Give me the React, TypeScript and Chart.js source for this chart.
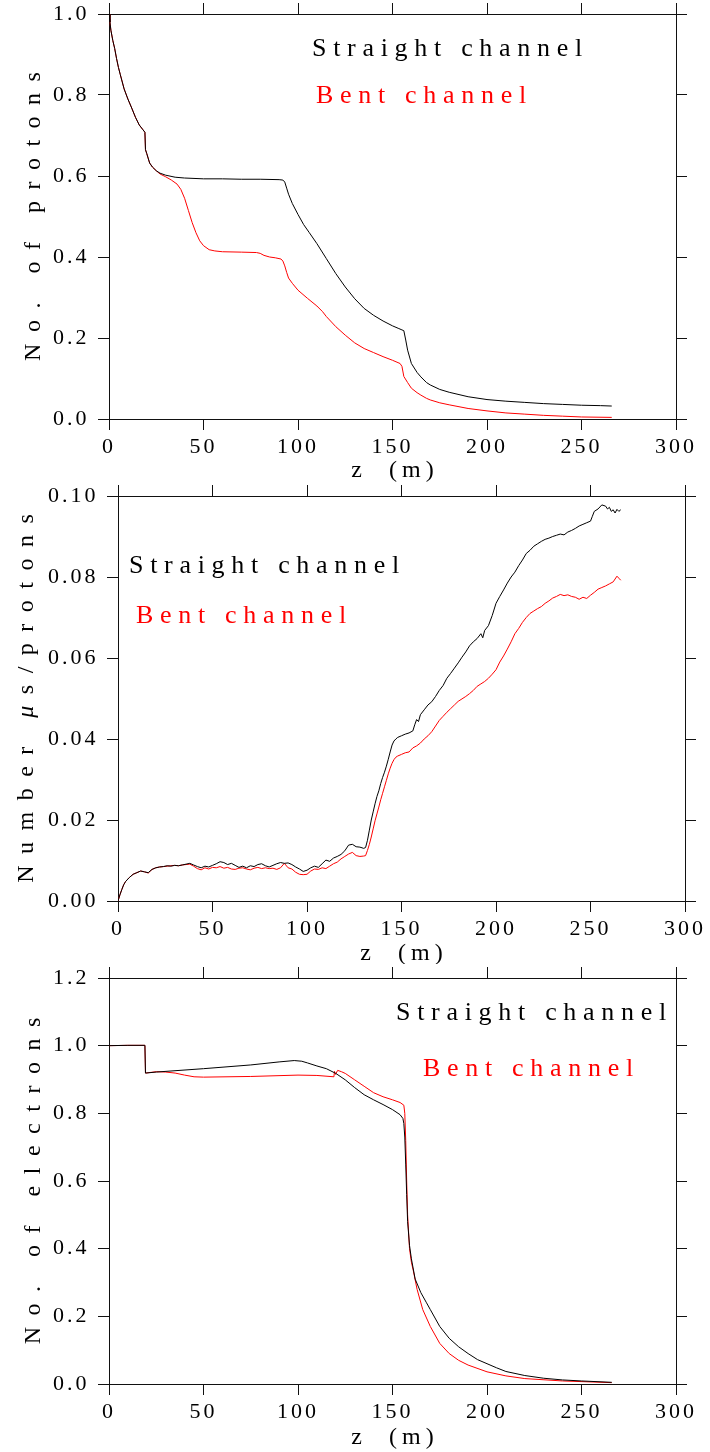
import React, { useEffect, useRef } from 'react';
import { Chart, registerables } from 'chart.js';

Chart.register(...registerables);

const SERIF = '"Liberation Serif", "DejaVu Serif", "Times New Roman", serif';
const W = 710;

// ---------- Panel 1: No. of protons ----------
const zProtonStraight = [0, 0.5, 1, 2, 3, 4, 5, 6, 8, 10, 12, 14, 16, 18, 19, 19.3, 20, 21.5, 23, 25, 27, 30, 35, 40, 50, 60, 70, 80, 90, 92, 93, 94, 95, 97, 100, 103, 106, 110, 115, 120, 125, 130, 135, 140, 145, 150, 153, 155, 156, 157, 158, 160, 163, 165, 168, 170, 175, 180, 190, 200, 210, 220, 230, 240, 250, 260, 266];
const protonStraight = [1.0, 0.98, 0.96, 0.935, 0.915, 0.89, 0.868, 0.85, 0.815, 0.79, 0.768, 0.745, 0.726, 0.714, 0.708, 0.665, 0.655, 0.632, 0.622, 0.613, 0.607, 0.602, 0.597, 0.595, 0.593, 0.593, 0.592, 0.592, 0.591, 0.59, 0.585, 0.57, 0.555, 0.532, 0.505, 0.48, 0.46, 0.433, 0.396, 0.359, 0.326, 0.297, 0.273, 0.256, 0.242, 0.23, 0.224, 0.22, 0.218, 0.195, 0.17, 0.137, 0.115, 0.104, 0.09, 0.084, 0.073, 0.066, 0.055, 0.048, 0.044, 0.041, 0.038, 0.036, 0.034, 0.033, 0.032];
const zProtonBent = [0, 0.5, 1, 2, 3, 4, 5, 6, 8, 10, 12, 14, 16, 18, 19, 19.3, 20, 21.5, 23, 25, 27, 30, 33, 36, 38, 40, 42, 44, 46, 48, 50, 53, 56, 60, 70, 78, 80, 82, 85, 88, 91, 92, 93, 94, 95, 97, 100, 105, 110, 113, 115, 120, 125, 130, 135, 140, 145, 150, 154, 155, 156, 158, 160, 163, 165, 168, 170, 175, 180, 190, 200, 210, 220, 230, 240, 250, 266];
const protonBent = [1.0, 0.98, 0.96, 0.935, 0.915, 0.89, 0.868, 0.85, 0.815, 0.79, 0.768, 0.745, 0.726, 0.714, 0.708, 0.665, 0.655, 0.632, 0.622, 0.613, 0.605, 0.598, 0.59, 0.58, 0.567, 0.545, 0.515, 0.485, 0.46, 0.44, 0.428, 0.418, 0.415, 0.413, 0.412, 0.411, 0.409, 0.404, 0.4, 0.398, 0.395, 0.39, 0.378, 0.362, 0.348, 0.335, 0.318, 0.298, 0.279, 0.265, 0.253, 0.228, 0.207, 0.188, 0.174, 0.164, 0.154, 0.145, 0.137, 0.13, 0.105, 0.09, 0.076, 0.065, 0.059, 0.051, 0.047, 0.04, 0.035, 0.026, 0.02, 0.015, 0.012, 0.009, 0.007, 0.005, 0.004];

// ---------- Panel 2: Number of muons per proton ----------
const zMuStraight = [0, 1, 2, 3, 4, 6, 8, 10, 12, 14, 16, 18, 20, 22, 24, 26, 28, 30, 32, 34, 36, 38, 40, 42, 44, 46, 48, 50, 52, 54, 56, 58, 60, 62, 64, 66, 68, 70, 72, 74, 76, 78, 80, 82, 84, 86, 88, 90, 92, 94, 96, 98, 100, 102, 104, 106, 108, 110, 112, 114, 116, 118, 120, 122, 124, 126, 128, 130, 131, 132, 133, 134, 135, 136, 137, 138, 139, 140, 141, 142, 143, 144, 145, 146, 147, 148, 150, 152, 154, 156, 157, 158, 159, 160, 162, 164, 166, 168, 170, 172, 174, 176, 178, 180, 182, 184, 186, 188, 190, 192, 193, 194, 196, 198, 200, 202, 204, 206, 208, 210, 212, 214, 216, 218, 220, 222, 224, 226, 228, 230, 232, 234, 236, 238, 240, 242, 244, 246, 248, 250, 251, 252, 254, 256, 258, 259, 260, 261, 262, 263, 264, 265, 266];
const muStraight = [0, 0.0015, 0.0028, 0.004, 0.0048, 0.0058, 0.0066, 0.007, 0.0074, 0.0072, 0.007, 0.0078, 0.0082, 0.0084, 0.0085, 0.0087, 0.0086, 0.0088, 0.0087, 0.0089, 0.0091, 0.0093, 0.0089, 0.0085, 0.0082, 0.0086, 0.0084, 0.0088, 0.0092, 0.0097, 0.0095, 0.009, 0.0093, 0.0088, 0.0083, 0.0086, 0.0082, 0.0087, 0.0085, 0.009, 0.0092, 0.0087, 0.0084, 0.0088, 0.0092, 0.0095, 0.0093, 0.0094, 0.009, 0.0084, 0.0079, 0.0073, 0.0076, 0.0082, 0.0086, 0.0083, 0.0092, 0.0101, 0.0098, 0.0106, 0.011, 0.0115, 0.0124, 0.0138, 0.014, 0.0134, 0.0133, 0.013, 0.0132, 0.015, 0.0175, 0.02, 0.022, 0.024, 0.0258, 0.0272, 0.029, 0.0305, 0.0318, 0.0333, 0.035, 0.0368, 0.0385, 0.0395, 0.04, 0.0404, 0.0408, 0.0412, 0.0415, 0.042, 0.0435, 0.0448, 0.0443, 0.046, 0.0472, 0.0484, 0.0492, 0.0505, 0.052, 0.0532, 0.055, 0.0562, 0.0575, 0.0588, 0.0602, 0.0615, 0.063, 0.064, 0.0648, 0.066, 0.065, 0.0668, 0.068, 0.0705, 0.0735, 0.0752, 0.0768, 0.0785, 0.08, 0.0812, 0.0828, 0.0842, 0.0858, 0.0866, 0.0876, 0.0882, 0.0888, 0.0893, 0.0896, 0.09, 0.0903, 0.0906, 0.0904, 0.0911, 0.0915, 0.092, 0.0926, 0.093, 0.0934, 0.0938, 0.095, 0.0962, 0.0968, 0.0978, 0.0975, 0.0968, 0.0972, 0.0962, 0.0966, 0.0958, 0.0967, 0.0962, 0.0966];
const zMuBent = [0, 1, 2, 3, 4, 6, 8, 10, 12, 14, 16, 18, 20, 22, 24, 26, 28, 30, 32, 34, 36, 38, 40, 42, 44, 46, 48, 50, 52, 54, 56, 58, 60, 62, 64, 66, 68, 70, 72, 74, 76, 78, 80, 82, 84, 86, 88, 90, 92, 94, 96, 98, 100, 102, 104, 106, 108, 110, 112, 114, 116, 118, 120, 122, 124, 126, 128, 130, 131, 132, 133, 134, 135, 136, 137, 138, 139, 140, 141, 142, 143, 144, 145, 146, 147, 148, 150, 152, 154, 156, 158, 160, 162, 164, 166, 168, 170, 172, 174, 176, 178, 180, 182, 184, 186, 188, 190, 192, 194, 196, 198, 200, 202, 204, 206, 208, 210, 212, 214, 216, 218, 220, 222, 224, 226, 228, 230, 232, 234, 236, 238, 240, 242, 244, 246, 248, 250, 252, 254, 256, 258, 260, 262, 264, 265, 266];
const muBent = [0, 0.0015, 0.0028, 0.004, 0.0048, 0.0058, 0.0066, 0.007, 0.0074, 0.0072, 0.0069, 0.0078, 0.0082, 0.0084, 0.0085, 0.0086, 0.0087, 0.0088, 0.0087, 0.0089, 0.009, 0.0091, 0.0086, 0.008, 0.0077, 0.0082, 0.0079, 0.0083, 0.0082, 0.0085, 0.0081, 0.0083, 0.0079, 0.0078, 0.0081, 0.0082, 0.0079, 0.0077, 0.0081, 0.0083, 0.008, 0.0082, 0.008, 0.0081, 0.0078, 0.0082, 0.0093, 0.0082, 0.0079, 0.0071, 0.0066, 0.0065, 0.0066, 0.0074, 0.0079, 0.0078, 0.0082, 0.008, 0.0086, 0.0092, 0.0096, 0.0104, 0.011, 0.0116, 0.012, 0.0112, 0.011, 0.0111, 0.0112, 0.0125, 0.014, 0.0158, 0.0178, 0.0198, 0.0215, 0.0232, 0.025, 0.0266, 0.0282, 0.0298, 0.0314, 0.0328, 0.034, 0.0349, 0.0355, 0.0358, 0.0362, 0.0366, 0.0368, 0.0378, 0.0383, 0.039, 0.04, 0.0408, 0.0418, 0.0432, 0.0446, 0.0456, 0.0466, 0.0475, 0.0484, 0.0493, 0.0499, 0.0505, 0.0512, 0.052, 0.053, 0.0536, 0.0542, 0.055, 0.056, 0.0571, 0.059, 0.0605, 0.0622, 0.064, 0.066, 0.0673, 0.0688, 0.07, 0.071, 0.0716, 0.0722, 0.0727, 0.0735, 0.0741, 0.0748, 0.0752, 0.0757, 0.0754, 0.0756, 0.0752, 0.075, 0.0745, 0.075, 0.0747, 0.0755, 0.0762, 0.077, 0.0774, 0.0778, 0.0783, 0.0788, 0.0802, 0.0797, 0.0792];

// ---------- Panel 3: No. of electrons ----------
const zElecStraight = [0, 10, 19, 19.3, 25, 50, 75, 90, 98, 102, 105, 110, 115, 120, 125, 130, 135, 140, 145, 150, 154, 155.5, 156, 156.5, 157, 157.5, 158, 159, 160, 162, 165, 168, 170, 175, 180, 185, 190, 195, 200, 205, 210, 220, 230, 240, 250, 266];
const elecStraight = [1.0, 1.001, 1.001, 0.919, 0.922, 0.932, 0.943, 0.952, 0.956, 0.954, 0.949, 0.94, 0.932, 0.918, 0.899, 0.876, 0.855, 0.84, 0.826, 0.811, 0.796, 0.785, 0.77, 0.73, 0.65, 0.56, 0.48, 0.41, 0.37, 0.31, 0.27, 0.24, 0.22, 0.17, 0.135, 0.11, 0.09, 0.072, 0.06, 0.048, 0.037, 0.025, 0.017, 0.012, 0.009, 0.005];
const zElecBent = [0, 10, 19, 19.3, 25, 30, 35, 40, 45, 50, 75, 100, 110, 119, 119.3, 119.8, 121, 123, 125, 130, 135, 140, 145, 150, 154, 156, 156.5, 157, 157.5, 158, 159, 160, 161, 163, 166, 170, 175, 180, 185, 190, 200, 210, 220, 240, 266];
const elecBent = [1.0, 1.001, 1.001, 0.919, 0.923, 0.922, 0.919, 0.913, 0.908, 0.907, 0.909, 0.913, 0.912, 0.908, 0.924, 0.915, 0.927, 0.923, 0.918, 0.899, 0.88, 0.861, 0.849, 0.84, 0.832, 0.824, 0.8, 0.72, 0.6, 0.5, 0.4, 0.36, 0.335, 0.28, 0.22, 0.17, 0.12, 0.09, 0.07, 0.056, 0.036, 0.024, 0.016, 0.009, 0.004];

const xTicksMax = 300;
const xTickStep = 50;
const legendStraight = 'Straight channel';
const legendBent = 'Bent channel';

type Run = { text: string; italic?: boolean };

type PanelCfg = {
  top: number;
  height: number;
  area: { left: number; right: number; top: number; bottom: number };
  yMax: number;
  yStep: number;
  yDec: number;
  yTitle: Run[];
  yTitleX: number;
  xTitleY: number;
  straight: { z: number[]; v: number[] };
  bent: { z: number[]; v: number[] };
  legS: [number, number];
  legB: [number, number];
};

function textWidth(ctx: CanvasRenderingContext2D, runs: Run[], size: number, spacing: number) {
  (ctx as any).letterSpacing = '0px';
  let total = 0;
  const widths = runs.map((r) => {
    ctx.font = `${r.italic ? 'italic ' : ''}${size}px ${SERIF}`;
    const w = ctx.measureText(r.text).width + spacing * Array.from(r.text).length;
    total += w;
    return w;
  });
  return { total, widths };
}

function drawRuns(ctx: CanvasRenderingContext2D, runs: Run[], x: number, y: number, size: number, spacing: number, center: boolean) {
  const { total, widths } = textWidth(ctx, runs, size, spacing);
  let cx = center ? x - (total - spacing) / 2 : x;
  (ctx as any).letterSpacing = `${spacing}px`;
  ctx.textAlign = 'left';
  ctx.textBaseline = 'alphabetic';
  runs.forEach((r, i) => {
    ctx.font = `${r.italic ? 'italic ' : ''}${size}px ${SERIF}`;
    ctx.fillText(r.text, cx, y);
    cx += widths[i];
  });
}

const tickSpacingPlugin = {
  id: 'tickSpacing',
  beforeDraw(chart: any) {
    chart.ctx.letterSpacing = '3px';
  },
  afterDraw(chart: any) {
    chart.ctx.letterSpacing = '0px';
  },
};

const panelTextPlugin = {
  id: 'panelText',
  afterDraw(chart: any, _args: any, opts: any) {
    const ctx: CanvasRenderingContext2D = chart.ctx;
    const a = chart.chartArea;
    ctx.save();
    ctx.fillStyle = '#000';
    // y title (rotated)
    ctx.save();
    ctx.translate(opts.yTitleX, (a.top + a.bottom) / 2);
    ctx.rotate(-Math.PI / 2);
    drawRuns(ctx, opts.yTitle, 0, 0, 24, 11.5, true);
    ctx.restore();
    // x title
    drawRuns(ctx, [{ text: 'z  (m)' }], (a.left + a.right) / 2, opts.xTitleY, 24, 5, true);
    // legend texts
    ctx.fillStyle = '#000000';
    drawRuns(ctx, [{ text: legendStraight }], opts.legS[0], opts.legS[1], 26, 6.7, false);
    ctx.fillStyle = '#ff0000';
    drawRuns(ctx, [{ text: legendBent }], opts.legB[0], opts.legB[1], 26, 6.7, false);
    ctx.restore();
  },
};

function axisBase(afterFit: (s: any) => void) {
  return {
    type: 'linear' as const,
    grid: {
      display: true,
      drawOnChartArea: false,
      drawTicks: true,
      tickLength: 11,
      color: '#111',
      tickColor: '#111',
      lineWidth: 1,
    },
    border: { display: true, color: '#111', width: 1 },
    afterFit,
  };
}

function Panel({ cfg }: { cfg: PanelCfg }) {
  const ref = useRef<HTMLCanvasElement | null>(null);
  useEffect(() => {
    const canvas = ref.current;
    if (!canvas) return;
    const { area, height } = cfg;
    const chart = new Chart(canvas, {
      type: 'line',
      data: {
        datasets: [
          {
            label: legendStraight,
            data: cfg.straight.z.map((z, i) => ({ x: z, y: cfg.straight.v[i] })),
            borderColor: '#000000',
            borderWidth: 1,
            pointRadius: 0,
            tension: 0,
            fill: false,
            xAxisID: 'x',
            yAxisID: 'y',
          },
          {
            label: legendBent,
            data: cfg.bent.z.map((z, i) => ({ x: z, y: cfg.bent.v[i] })),
            borderColor: '#ff0000',
            borderWidth: 1,
            pointRadius: 0,
            tension: 0,
            fill: false,
            xAxisID: 'x',
            yAxisID: 'y',
          },
        ],
      },
      options: {
        responsive: false,
        animation: false,
        devicePixelRatio: 1,
        layout: { padding: 0, autoPadding: false },
        plugins: {
          legend: { display: false },
          tooltip: { enabled: false },
          title: { display: false },
          panelText: {
            yTitle: cfg.yTitle,
            yTitleX: cfg.yTitleX,
            xTitleY: cfg.xTitleY,
            legS: cfg.legS,
            legB: cfg.legB,
          },
        } as any,
        scales: {
          x: {
            ...axisBase((s: any) => { s.height = height - area.bottom; }),
            position: 'bottom',
            min: 0,
            max: xTicksMax,
            ticks: { stepSize: xTickStep, font: { family: SERIF, size: 22 }, color: '#000', padding: 4, maxRotation: 0, autoSkip: false },
          },
          xTop: {
            ...axisBase((s: any) => { s.height = area.top; }),
            position: 'top',
            min: 0,
            max: xTicksMax,
            ticks: { stepSize: xTickStep, display: false },
          },
          y: {
            ...axisBase((s: any) => { s.width = area.left; }),
            position: 'left',
            min: 0,
            max: cfg.yMax,
            ticks: {
              stepSize: cfg.yStep,
              font: { family: SERIF, size: 22, lineHeight: 1 },
              color: '#000',
              padding: 0,
              autoSkip: false,
              callback: (v: any) => Number(v).toFixed(cfg.yDec) + ' ',
            },
          },
          yRight: {
            ...axisBase((s: any) => { s.width = W - area.right; }),
            position: 'right',
            min: 0,
            max: cfg.yMax,
            ticks: { stepSize: cfg.yStep, display: false },
          },
        } as any,
      },
      plugins: [tickSpacingPlugin, panelTextPlugin],
    });
    return () => chart.destroy();
  }, [cfg]);
  return (
    <canvas
      ref={ref}
      width={W}
      height={cfg.height}
      style={{ position: 'absolute', left: 0, top: cfg.top, width: W, height: cfg.height, display: 'block' }}
    />
  );
}

const panels: PanelCfg[] = [
  {
    top: 0,
    height: 484,
    area: { left: 109, right: 676, top: 14, bottom: 419 },
    yMax: 1.0,
    yStep: 0.2,
    yDec: 1,
    yTitle: [{ text: 'No. of protons' }],
    yTitleX: 40,
    xTitleY: 477,
    straight: { z: zProtonStraight, v: protonStraight },
    bent: { z: zProtonBent, v: protonBent },
    legS: [312, 56],
    legB: [316, 103],
  },
  {
    top: 484,
    height: 480,
    area: { left: 118, right: 685, top: 12, bottom: 417 },
    yMax: 0.1,
    yStep: 0.02,
    yDec: 2,
    yTitle: [{ text: 'Number ' }, { text: 'μ', italic: true }, { text: 's/protons' }],
    yTitleX: 33,
    xTitleY: 476,
    straight: { z: zMuStraight, v: muStraight },
    bent: { z: zMuBent, v: muBent },
    legS: [129, 89],
    legB: [136, 139],
  },
  {
    top: 964,
    height: 488,
    area: { left: 109, right: 676, top: 14, bottom: 420 },
    yMax: 1.2,
    yStep: 0.2,
    yDec: 1,
    yTitle: [{ text: 'No. of electrons' }],
    yTitleX: 40,
    xTitleY: 480,
    straight: { z: zElecStraight, v: elecStraight },
    bent: { z: zElecBent, v: elecBent },
    legS: [396, 56],
    legB: [423, 112],
  },
];

export default function App() {
  return (
    <div style={{ position: 'absolute', left: 0, top: 0, width: W, height: 1452, background: '#fff' }}>
      {panels.map((p, i) => (
        <Panel key={i} cfg={p} />
      ))}
    </div>
  );
}
